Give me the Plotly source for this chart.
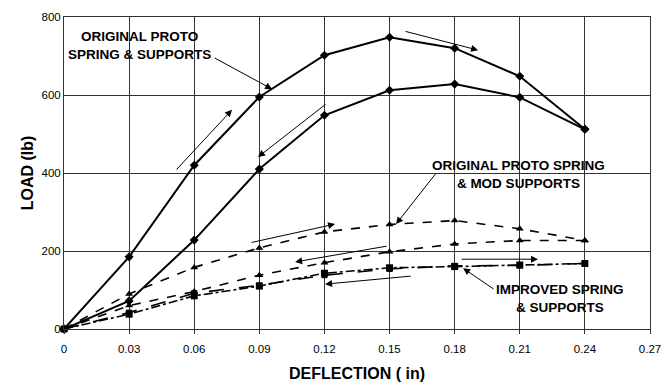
import plotly.graph_objects as go

deflection = [0, 0.03, 0.06, 0.09, 0.12, 0.15, 0.18, 0.21, 0.24]

proto_load = [0, 185, 420, 595, 702, 748, 720, 648, 512]
proto_unload = [0, 72, 228, 410, 548, 612, 628, 594, 512]
mod_load = [0, 90, 158, 208, 249, 268, 278, 257, 227]
mod_unload = [0, 60, 96, 138, 170, 198, 218, 227, 227]
improved_load = [0, 38, 85, 110, 143, 157, 160, 164, 168]
improved_unload = [0, 42, 92, 112, 138, 154, 162, 163, 168]

x_ticks = [0, 0.03, 0.06, 0.09, 0.12, 0.15, 0.18, 0.21, 0.24, 0.27]
x_tick_text = ["0", "0.03", "0.06", "0.09", "0.12", "0.15", "0.18", "0.21", "0.24", "0.27"]
y_ticks = [0, 200, 400, 600, 800]

fig = go.Figure()

def add(vals, dash, symbol, width, msize):
    fig.add_trace(go.Scatter(
        x=deflection, y=vals, mode="lines+markers",
        line=dict(color="black", width=width, dash=dash),
        marker=dict(symbol=symbol, size=msize, color="black"),
        showlegend=False, cliponaxis=False))

add(proto_load, "solid", "diamond", 2, 7)
add(proto_unload, "solid", "diamond", 2, 7)
add(mod_load, "dash", "triangle-up", 1.6, 7)
add(mod_unload, "dash", "triangle-up", 1.6, 7)
add(improved_load, "dashdot", "square", 1.6, 7)
add(improved_unload, "longdash", "square", 1.6, 6)

label_font = dict(family="Liberation Sans, Arial", size=13.5, color="black")

# labels
fig.add_annotation(x=0.035, y=728, text="<b>ORIGINAL PROTO<br>SPRING &amp; SUPPORTS</b>",
                   showarrow=False, font=label_font, align="center")
fig.add_annotation(x=0.2092, y=395, text="<b>ORIGINAL PROTO SPRING<br>&amp; MOD SUPPORTS</b>",
                   showarrow=False, font=label_font, align="center")
fig.add_annotation(x=0.2286, y=77, text="<b>IMPROVED SPRING<br>&amp; SUPPORTS</b>",
                   showarrow=False, font=label_font, align="center")

# arrows: (head_x, head_y, tail_x, tail_y)
arrows = [
    (0.0959, 615, 0.0687, 697),
    (0.0774, 562, 0.0512, 405),
    (0.0894, 441, 0.1212, 579),
    (0.1908, 715, 0.1567, 764),
    (0.1530, 269, 0.1719, 403),
    (0.1249, 269, 0.0857, 221),
    (0.1065, 172, 0.1493, 213),
    (0.1203, 115, 0.1604, 136),
    (0.2184, 179, 0.1825, 179),
    (0.1839, 156, 0.1986, 100),
]
for hx, hy, tx, ty in arrows:
    fig.add_annotation(x=hx, y=hy, ax=tx, ay=ty, xref="x", yref="y",
                       axref="x", ayref="y", text="", showarrow=True,
                       arrowhead=2, arrowsize=1.4, arrowwidth=1, arrowcolor="black")

# page body has an 8px default margin, so the figure is sized to fit the window
fig.update_layout(
    width=662, height=375,
    margin=dict(l=56, r=20, t=9, b=54),
    paper_bgcolor="white", plot_bgcolor="white",
    font=dict(family="Liberation Sans, Arial", size=11.5, color="black"),
)
fig.update_xaxes(range=[0, 0.27], tickvals=x_ticks, ticktext=x_tick_text,
                 showgrid=True, gridcolor="#333", gridwidth=1,
                 showline=True, linecolor="#333", linewidth=1, mirror=True,
                 zeroline=False, ticks="outside", ticklen=4, tickcolor="#333",
                 ticklabelstandoff=5, automargin=False,
                 title=dict(text="<b>DEFLECTION ( in)</b>", font=dict(size=16), standoff=14))
fig.update_yaxes(range=[0, 800], tickvals=y_ticks,
                 showgrid=True, gridcolor="#333", gridwidth=1,
                 showline=True, linecolor="#333", linewidth=1, mirror=True,
                 zeroline=False, ticks="", automargin=False,
                 title=dict(text="<b>LOAD (lb)</b>", font=dict(size=16), standoff=3))

fig.write_html("out.html")
